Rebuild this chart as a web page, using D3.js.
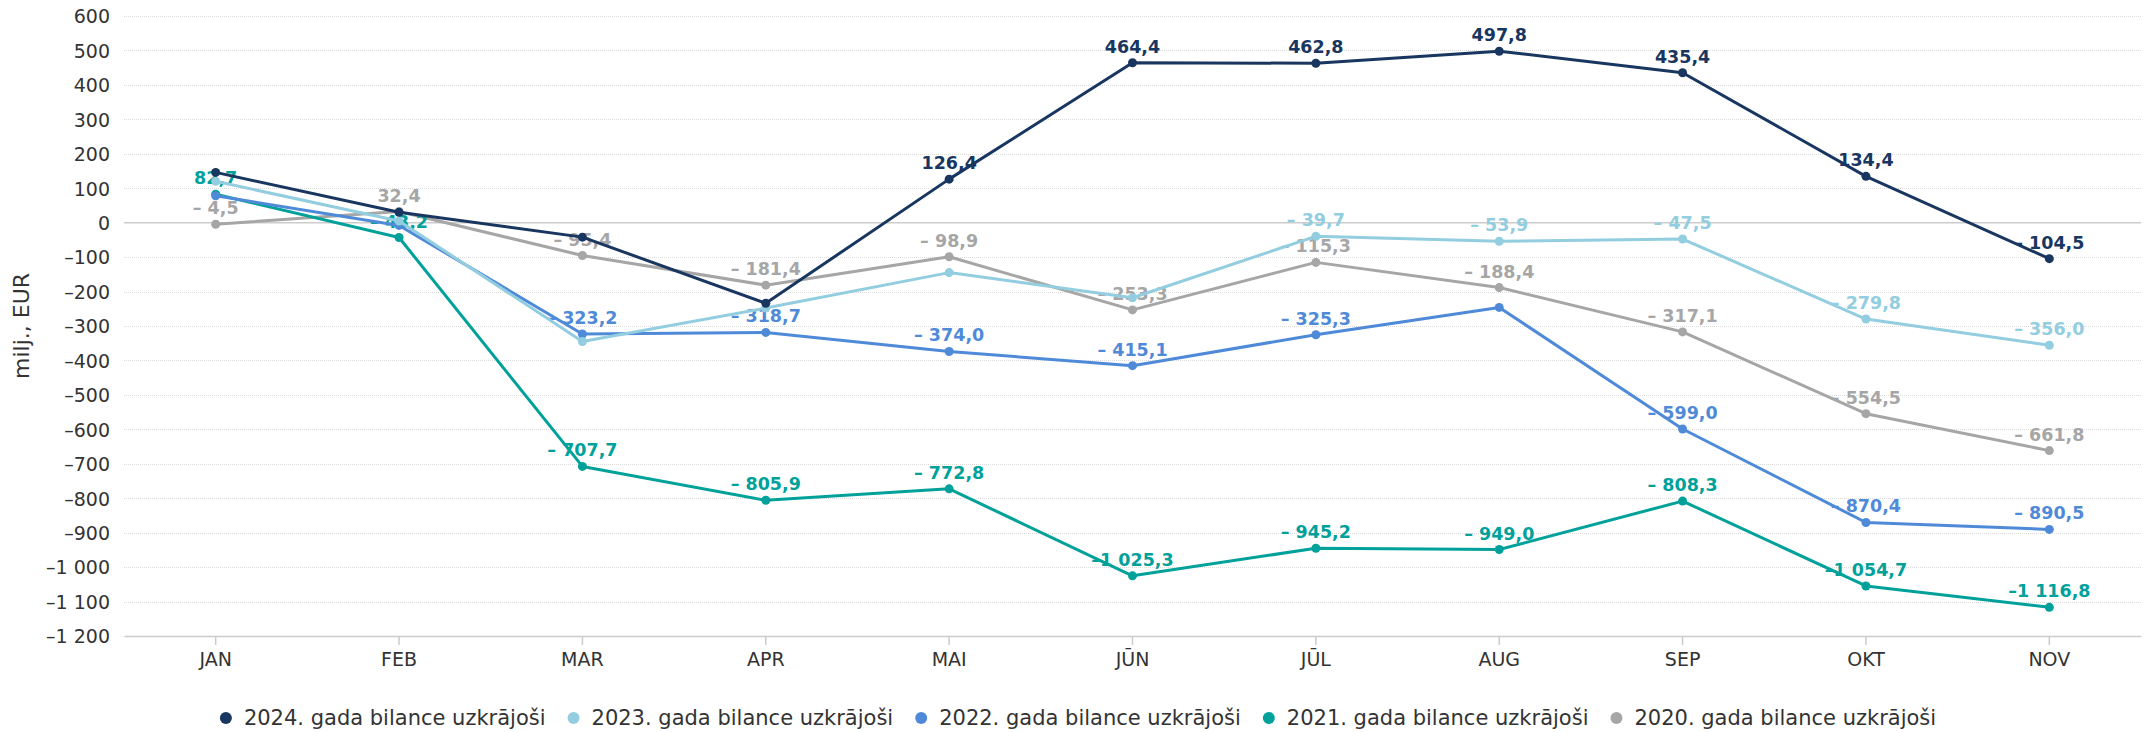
<!DOCTYPE html>
<html lang="lv">
  <head>
    <meta charset="utf-8">
    <title>Bilance uzkrājoši</title>
    <script src="https://cdn.jsdelivr.net/npm/d3@7"></script>
    <style type="text/css">
      body { margin: 0; background: #fff; }
      svg { display: block; font-family: "DejaVu Sans", sans-serif; }
      .grid line { stroke: #dcdcdc; stroke-dasharray: 1,1; }
      .axis text { fill: #333; font-size: 19px; font-family: "DejaVu Sans", sans-serif; }
      .dlabel { font-size: 17.5px; font-weight: bold; text-anchor: middle; }
      .legend text { fill: #333; font-size: 21px; }
    </style>
  </head>
  <body>
    <script>
      var w = 2156;
      var h = 732;

      var months = ["JAN", "FEB", "MAR", "APR", "MAI", "JŪN", "JŪL", "AUG", "SEP", "OKT", "NOV"];

      var seriesNames = ["2024. gada bilance uzkrājoši", "2023. gada bilance uzkrājoši",
        "2022. gada bilance uzkrājoši", "2021. gada bilance uzkrājoši", "2020. gada bilance uzkrājoši"];
      var colors = ["#18365f", "#92cde0", "#4f8ad8", "#00a19a", "#a6a6a6"];

      var v2024 = [146, 30, -42, -234, 126.4, 464.4, 462.8, 497.8, 435.4, 134.4, -104.5];
      var v2023 = [120, 5, -345, -248, -145, -218, -39.7, -53.9, -47.5, -279.8, -356.0];
      var v2022 = [78, -8, -323.2, -318.7, -374.0, -415.1, -325.3, -246, -599.0, -870.4, -890.5];
      var v2021 = [82.7, -43.2, -707.7, -805.9, -772.8, -1025.3, -945.2, -949.0, -808.3, -1054.7, -1116.8];
      var v2020 = [-4.5, 32.4, -95.4, -181.4, -98.9, -253.3, -115.3, -188.4, -317.1, -554.5, -661.8];
      var allValues = [v2024, v2023, v2022, v2021, v2020];

      // labels the original chart leaves out (overlapping) : [series, month]
      var hiddenLabels = [[0, 0], [1, 0], [2, 0], [0, 1], [1, 1], [2, 1], [0, 2], [1, 2],
        [0, 3], [1, 3], [1, 4], [1, 5], [2, 7]];

      var yTicks = d3.range(-1200, 601, 100);

      var plotLeft = 124, plotRight = 2141, plotTop = 16, plotBottom = 636;

      var svg = d3.select("body").append("svg")
          .attr("width", w).attr("height", h);

      var xScale = d3.scaleBand()
        .domain(months)
        .range([plotLeft, plotRight]);

      var yScale = d3.scaleLinear()
        .domain([-1200, 600])
        .range([plotBottom, plotTop]);

      var cx = m => xScale(m) + xScale.bandwidth() / 2;

      function fmt(v) {
        var a = Math.abs(v).toFixed(1).split(".");
        var intPart = a[0].replace(/\B(?=(\d{3})+(?!\d))/g, " ");
        var s = intPart + "," + a[1];
        if (v < 0) s = (Math.abs(v) >= 1000 ? "–" : "– ") + s;
        return s;
      }

      // grid
      svg.append("g").attr("class", "grid")
        .selectAll("line")
        .data(yTicks.filter(t => t !== 0 && t !== -1200))
        .join("line")
        .attr("x1", plotLeft).attr("x2", plotRight)
        .attr("y1", d => Math.round(yScale(d)) + 0.5).attr("y2", d => Math.round(yScale(d)) + 0.5);

      svg.append("line")
        .attr("x1", plotLeft).attr("x2", plotRight)
        .attr("y1", yScale(0)).attr("y2", yScale(0))
        .attr("stroke", "#cccccc").attr("stroke-width", 1.5);

      // y axis
      var yAxis = svg.append("g").attr("class", "axis")
        .attr("transform", "translate(" + (plotLeft - 14) + ",0)")
        .call(d3.axisLeft(yScale).tickValues(yTicks).tickSize(0)
          .tickFormat(d => (d < 0 ? "–" : "") + String(Math.abs(d)).replace(/\B(?=(\d{3})+(?!\d))/g, " ")));
      yAxis.select(".domain").remove();
      yAxis.selectAll("text").attr("x", 0).attr("dy", "0.36em");

      svg.append("text")
        .attr("transform", "translate(29," + ((plotTop + plotBottom) / 2) + ") rotate(-90)")
        .attr("text-anchor", "middle")
        .attr("fill", "#333")
        .style("font-size", "22px")
        .text("milj., EUR");

      // x axis
      var xAxis = svg.append("g").attr("class", "axis")
        .attr("transform", "translate(0," + plotBottom + ")")
        .call(d3.axisBottom(xScale).tickSize(9).tickPadding(8).tickSizeOuter(0));
      xAxis.select(".domain").attr("stroke", "#cccccc").attr("stroke-width", 1.5);
      xAxis.selectAll(".tick line").attr("stroke", "#cccccc").attr("stroke-width", 1.5);

      var line = d3.line()
        .x((d, i) => cx(months[i]))
        .y(d => yScale(d));

      // series, 2020 first so 2024 ends on top
      for (var s = allValues.length - 1; s >= 0; s--) {
        var vals = allValues[s];
        var g = svg.append("g");
        g.append("path")
          .datum(vals)
          .attr("d", line)
          .attr("fill", "none")
          .attr("stroke", colors[s])
          .attr("stroke-width", 3)
          .attr("stroke-linejoin", "round");
        g.selectAll("circle")
          .data(vals)
          .join("circle")
          .attr("cx", (d, i) => cx(months[i]))
          .attr("cy", d => yScale(d))
          .attr("r", 4.5)
          .attr("fill", colors[s]);
        var si = s;
        g.selectAll("text")
          .data(vals.map((v, i) => ({ v: v, i: i }))
            .filter(d => !hiddenLabels.some(p => p[0] === si && p[1] === d.i)))
          .join("text")
          .attr("class", "dlabel")
          .attr("x", d => cx(months[d.i]))
          .attr("y", d => yScale(d.v) - 10)
          .attr("fill", colors[s])
          .text(d => fmt(d.v));
      }

      // legend
      var legend = svg.append("g").attr("class", "legend");
      var lx = 0;
      seriesNames.forEach(function (name, i) {
        var item = legend.append("g").attr("transform", "translate(" + lx + ",0)");
        item.append("circle").attr("cx", 0).attr("cy", 0).attr("r", 6).attr("fill", colors[i]);
        var t = item.append("text").attr("x", 18).attr("dy", "0.35em").text(name);
        lx += 18 + t.node().getComputedTextLength() + 28;
      });
      var legendWidth = lx - 28 + 6;
      legend.attr("transform", "translate(" + (w / 2 - legendWidth / 2 + 6) + ",718)");
    </script>
  </body>
</html>
